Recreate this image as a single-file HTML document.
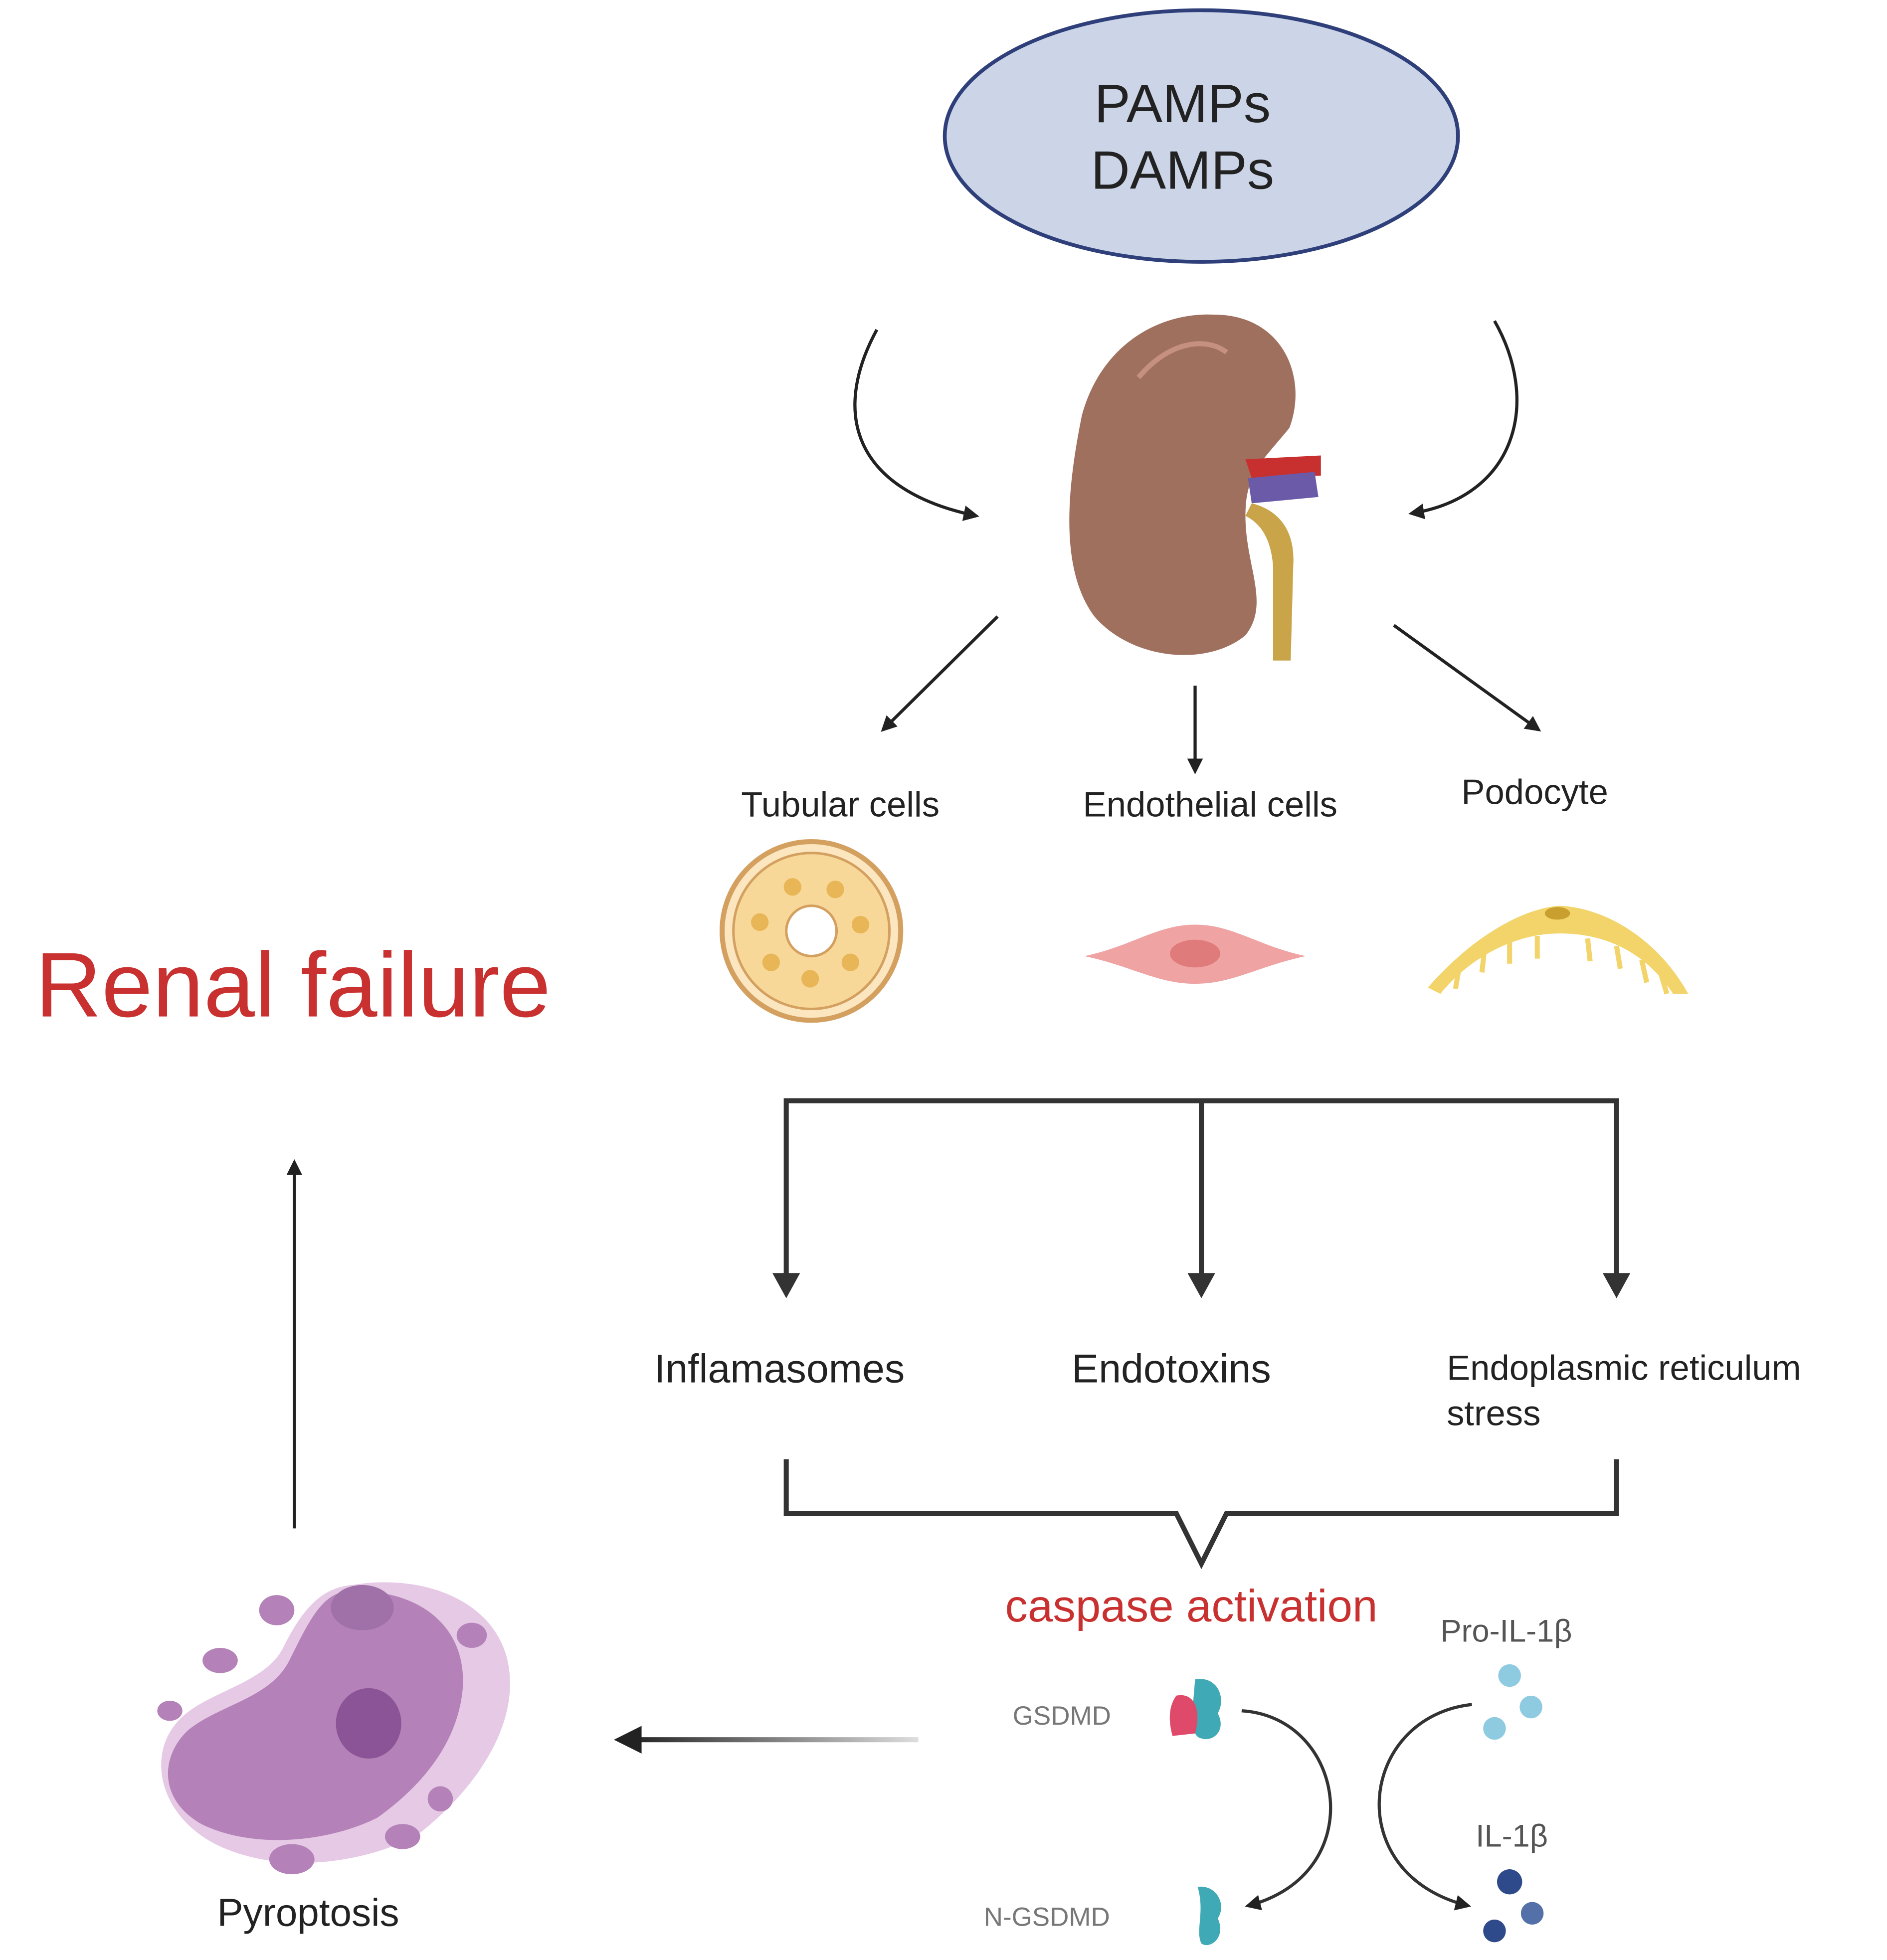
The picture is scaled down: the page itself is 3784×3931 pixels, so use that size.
<!DOCTYPE html>
<html><head><meta charset="utf-8"><style>
html,body{margin:0;padding:0;background:#fff;}
svg{display:block;}
text{font-family:"Liberation Sans",sans-serif;}
</style></head><body>
<svg width="3784" height="3931" viewBox="0 0 1500 1558" xmlns="http://www.w3.org/2000/svg">
<defs>
<marker id="ah" viewBox="0 0 10 10" refX="8" refY="5" markerWidth="5" markerHeight="5" orient="auto-start-reverse"><path d="M0,0 L10,5 L0,10 z" fill="#222"/></marker>
<linearGradient id="fade" gradientUnits="userSpaceOnUse" x1="500" y1="0" x2="730" y2="0"><stop offset="0" stop-color="#222"/><stop offset="1" stop-color="#222" stop-opacity="0.15"/></linearGradient>
</defs>
<rect width="1500" height="1558" fill="#fff"/>
<ellipse cx="955" cy="108" rx="204" ry="100" fill="#ccd5e8" stroke="#2f3f7a" stroke-width="3"/>
<text x="940" y="97" font-size="43" text-anchor="middle" fill="#222">PAMPs</text>
<text x="940" y="150" font-size="43" text-anchor="middle" fill="#222">DAMPs</text>
<!-- kidney -->
<path d="M965,250 C1020,250 1040,300 1025,340 C1005,365 990,375 990,410 C990,450 1010,480 990,505 C960,530 900,525 870,490 C840,450 850,380 860,330 C875,275 920,248 965,250 Z" fill="#a0705f"/>
<path d="M905,300 C930,270 960,268 975,280" stroke="#c69080" stroke-width="4" fill="none"/>
<path d="M990,365 L1050,362 L1050,378 L995,380 Z" fill="#c8302f"/>
<path d="M992,380 L1045,375 L1048,395 L995,400 Z" fill="#6a5aa8"/>
<path d="M995,400 C1015,405 1030,420 1028,450 L1026,525 L1012,525 L1012,450 C1010,425 1000,415 990,410 Z" fill="#c9a448"/>
<!-- curved arrows -->
<path d="M697,262 C660,330 680,390 776,410" stroke="#222" stroke-width="2.5" fill="none" marker-end="url(#ah)"/>
<path d="M1188,255 C1225,320 1205,395 1122,408" stroke="#222" stroke-width="2.5" fill="none" marker-end="url(#ah)"/>
<line x1="793" y1="490" x2="702" y2="580" stroke="#222" stroke-width="2.5" marker-end="url(#ah)"/>
<line x1="950" y1="545" x2="950" y2="613" stroke="#222" stroke-width="2.5" marker-end="url(#ah)"/>
<line x1="1108" y1="497" x2="1223" y2="580" stroke="#222" stroke-width="2.5" marker-end="url(#ah)"/>
<text x="668" y="649" font-size="28" text-anchor="middle" fill="#222">Tubular cells</text>
<text x="962" y="649" font-size="28" text-anchor="middle" fill="#222">Endothelial cells</text>
<text x="1220" y="639" font-size="28" text-anchor="middle" fill="#222">Podocyte</text>
<!-- tubular -->
<circle cx="645" cy="740" r="71" fill="#fbe6c0" stroke="#d4a060" stroke-width="4"/>
<circle cx="645" cy="740" r="62" fill="#f7d898" stroke="#d4a060" stroke-width="2"/>
<circle cx="645" cy="740" r="20" fill="#fff" stroke="#d4a060" stroke-width="2"/>
<g fill="#e8b656"><circle cx="630" cy="705" r="7"/><circle cx="664" cy="707" r="7"/><circle cx="684" cy="735" r="7"/><circle cx="676" cy="765" r="7"/><circle cx="644" cy="778" r="7"/><circle cx="613" cy="765" r="7"/><circle cx="604" cy="733" r="7"/></g>
<!-- endothelial -->
<path d="M862,760 C900,752 920,735 950,735 C980,735 1000,752 1038,760 C1000,768 980,782 950,782 C920,782 900,768 862,760 Z" fill="#f0a3a3"/>
<ellipse cx="950" cy="758" rx="20" ry="11" fill="#e07b7b"/>
<!-- podocyte -->
<path d="M1135,785 C1170,745 1210,722 1240,720 C1280,722 1320,750 1342,790 L1330,790 C1310,760 1280,742 1240,742 C1200,742 1165,765 1145,790 Z" fill="#f2d46a"/>
<g stroke="#f2d46a" stroke-width="4" fill="none"><path d="M1160,768 l-3,18"/><path d="M1180,755 l-2,18"/><path d="M1200,748 l0,18"/><path d="M1222,744 l0,18"/><path d="M1262,746 l2,18"/><path d="M1285,752 l3,18"/><path d="M1305,763 l4,18"/><path d="M1320,773 l5,17"/></g>
<ellipse cx="1238" cy="726" rx="10" ry="5" fill="#c9a030"/>
<!-- renal failure -->
<text x="28" y="808" font-size="73" fill="#c8312f">Renal failure</text>
<!-- bracket top -->
<path d="M625,1028 L625,875 L1285,875 L1285,1028 M955,875 L955,1028" stroke="#333" stroke-width="4" fill="none"/>
<path d="M614,1012 L636,1012 L625,1032 Z M944,1012 L966,1012 L955,1032 Z M1274,1012 L1296,1012 L1285,1032 Z" fill="#333"/>
<text x="520" y="1099" font-size="32" fill="#222">Inflamasomes</text>
<text x="852" y="1099" font-size="32" fill="#222">Endotoxins</text>
<text x="1150" y="1097" font-size="28" fill="#222">Endoplasmic reticulum</text>
<text x="1150" y="1133" font-size="28" fill="#222">stress</text>
<path d="M625,1160 L625,1203 L935,1203 L955,1243 L975,1203 L1285,1203 L1285,1160" stroke="#333" stroke-width="4" fill="none"/>
<text x="947" y="1289" font-size="36" text-anchor="middle" fill="#c8312f">caspase activation</text>
<text x="1145" y="1305" font-size="25" fill="#555">Pro-IL-1β</text>
<text x="1173" y="1468" font-size="25" fill="#555">IL-1β</text>
<text x="805" y="1371" font-size="21" fill="#777">GSDMD</text>
<text x="782" y="1531" font-size="21" fill="#777">N-GSDMD</text>
<!-- GSDMD icons -->
<path d="M950,1335 C968,1332 975,1350 968,1362 C975,1375 965,1385 955,1382 C945,1380 948,1360 950,1335 Z" fill="#3fa9b5"/>
<path d="M935,1348 C950,1345 955,1360 950,1378 L932,1380 C928,1365 930,1355 935,1348 Z" fill="#e04a6a"/>
<path d="M952,1500 C968,1498 975,1515 968,1525 C975,1540 962,1550 955,1545 C950,1535 958,1520 952,1500 Z" fill="#3fa9b5"/>
<g fill="#8fcbe0"><circle cx="1200" cy="1332" r="9"/><circle cx="1217" cy="1357" r="9"/><circle cx="1188" cy="1374" r="9"/></g>
<g fill="#2f4a8a"><circle cx="1200" cy="1496" r="10"/><circle cx="1218" cy="1521" r="9" fill="#5470a8"/><circle cx="1188" cy="1535" r="9"/></g>
<path d="M987,1360 C1070,1365 1090,1490 992,1515" stroke="#333" stroke-width="2.5" fill="none" marker-end="url(#ah)"/>
<path d="M1170,1355 C1080,1365 1065,1490 1167,1515" stroke="#333" stroke-width="2.5" fill="none" marker-end="url(#ah)"/>
<!-- arrows -->
<line x1="234" y1="1215" x2="234" y2="924" stroke="#222" stroke-width="2.5" marker-end="url(#ah)"/>
<rect x="500" y="1381" width="230" height="4" fill="url(#fade)"/>
<path d="M488,1383 L510,1372 L510,1394 Z" fill="#222"/>
<!-- pyroptosis cell -->
<path d="M280,1260 C340,1250 400,1275 405,1330 C410,1380 370,1430 330,1460 C290,1480 230,1490 180,1470 C130,1450 115,1400 140,1370 C160,1345 210,1340 225,1310 C240,1280 255,1262 280,1260 Z" fill="#e5c9e5"/>
<path d="M275,1265 C330,1262 370,1290 368,1340 C365,1385 335,1420 300,1445 C260,1465 200,1470 160,1450 C125,1430 128,1395 150,1375 C175,1355 215,1350 230,1320 C245,1290 255,1268 275,1265 Z" fill="#b482b8"/>
<ellipse cx="293" cy="1370" rx="26" ry="28" fill="#8a5496"/>
<ellipse cx="288" cy="1278" rx="25" ry="18" fill="#a070a8"/>
<g fill="#b482b8"><ellipse cx="220" cy="1280" rx="14" ry="12"/><ellipse cx="175" cy="1320" rx="14" ry="10"/><ellipse cx="135" cy="1360" rx="10" ry="8"/><ellipse cx="232" cy="1478" rx="18" ry="12"/><ellipse cx="320" cy="1460" rx="14" ry="10"/><ellipse cx="350" cy="1430" rx="10" ry="10"/><ellipse cx="375" cy="1300" rx="12" ry="10"/></g>
<text x="245" y="1531" font-size="31" text-anchor="middle" fill="#222">Pyroptosis</text>
</svg>
</body></html>
